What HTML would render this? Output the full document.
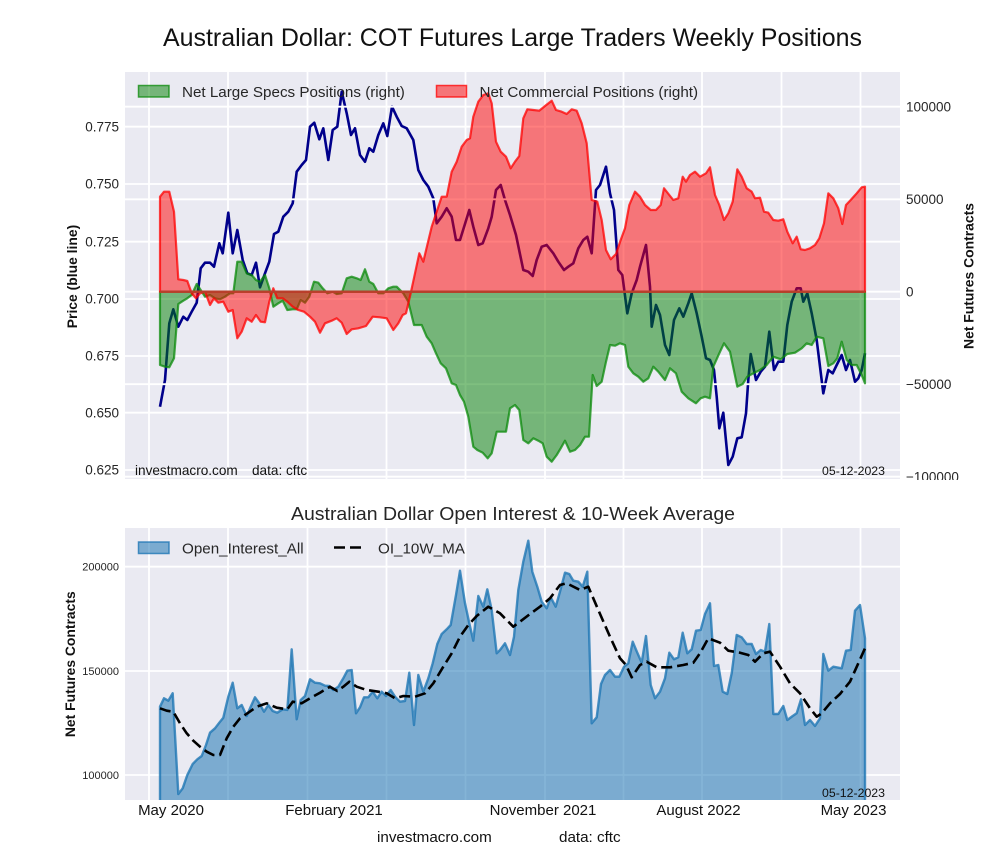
<!DOCTYPE html>
<html>
<head>
<meta charset="utf-8">
<style>
  html,body{margin:0;padding:0;background:#fff;}
  svg{display:block;}
  text{font-family:"Liberation Sans",Arial,sans-serif;}
</style>
</head>
<body>
<svg width="1000" height="860" viewBox="0 0 1000 860" xmlns="http://www.w3.org/2000/svg">
  <defs>
    <clipPath id="topClip"><rect x="125" y="72" width="775" height="407"/></clipPath>
    <clipPath id="botClip"><rect x="125" y="528" width="775" height="272"/></clipPath>
    <clipPath id="rtClip"><rect x="900" y="60" width="100" height="420"/></clipPath>
  </defs>
  <rect width="1000" height="860" fill="#fff"/>

  <!-- Title -->
  <text x="163" y="46" font-size="25" fill="#111" textLength="699" lengthAdjust="spacingAndGlyphs">Australian Dollar: COT Futures Large Traders Weekly Positions</text>

  <!-- ============ TOP CHART ============ -->
  <rect x="125" y="72" width="775" height="407" fill="#eaeaf2"/>
  <g clip-path="url(#topClip)">
    <!-- vertical grid -->
    <g stroke="#fff" stroke-width="1.8">
      <line x1="149" y1="72" x2="149" y2="479"/>
      <line x1="228" y1="72" x2="228" y2="479"/>
      <line x1="307.5" y1="72" x2="307.5" y2="479"/>
      <line x1="386.5" y1="72" x2="386.5" y2="479"/>
      <line x1="465.5" y1="72" x2="465.5" y2="479"/>
      <line x1="545" y1="72" x2="545" y2="479"/>
      <line x1="623.5" y1="72" x2="623.5" y2="479"/>
      <line x1="702" y1="72" x2="702" y2="479"/>
      <line x1="781.5" y1="72" x2="781.5" y2="479"/>
      <line x1="860.5" y1="72" x2="860.5" y2="479"/>
      <!-- left grid -->
      <line x1="125" y1="126.7" x2="900" y2="126.7"/>
      <line x1="125" y1="184" x2="900" y2="184"/>
      <line x1="125" y1="241.7" x2="900" y2="241.7"/>
      <line x1="125" y1="299" x2="900" y2="299"/>
      <line x1="125" y1="356" x2="900" y2="356"/>
      <line x1="125" y1="412.7" x2="900" y2="412.7"/>
      <line x1="125" y1="470" x2="900" y2="470"/>
    </g>
    <!-- price line -->
    <polyline fill="none" stroke="#00008b" stroke-width="2.6" stroke-linejoin="round" points="160,406.7 165,380 169.3,323.3 173.3,309.3 178.3,326.7 183.3,316.7 187.3,320 191.7,311.7 196.7,302.7 200.7,268.3 205,262.7 210,262.7 214,266.7 219.3,243.3 222.7,253.3 228.3,212.7 232.7,253.3 237.3,230 242.7,260 247.3,273.3 251.7,275 256,262.7 260,287.3 265,273.3 269.3,261.7 274,234 278.3,231.7 283.3,216.7 288.3,211.7 292.7,203.3 296.7,171.7 301.7,165 306,160 310,126.7 314.3,122.7 319.3,139.3 323.3,128.3 328.3,160 332.7,130 337.3,126.7 341.7,91.7 346.7,113.3 351,135 355,128.3 360,155 365,161.7 369.3,148.3 373.3,151.7 378.3,135 383.3,123.3 387.3,136 392,106.7 396.7,116.7 401.7,126 406.7,128.3 413.3,140 418.3,170 423.3,180 428.3,186.7 433.3,198.3 436.7,223.3 441.7,216.7 446.7,208.3 451.7,216.7 456,240 460,240 469.3,210 473.3,226.7 478.3,245 482.7,243.3 488.3,228.3 491.7,216.7 496,190 500.7,185 505,200 510,215 516,235 523.3,270 528.3,271.7 532.7,276 536.7,260 541.7,246.7 546.7,245 553.3,253.3 558.3,261.7 564,270 568.3,266.7 573.3,263.3 578.3,248.3 583.3,240 587.3,236.7 591.7,253.3 596,190 600,185 606,166.7 610,193.3 614,210 618.3,270 622.3,275 627.3,313.3 631.7,293.3 636.7,280 640,266.7 646,245 650,286.7 651.7,326.7 656,305 660,315 665,345 669.3,355 674,320 679.3,308.3 683.3,316.7 688.3,303.3 691.7,293.3 696.7,313.3 701.7,336.7 706,358.3 710,360 714,370 716.7,396.7 719.3,428.3 723.3,412.7 728.3,465 732.7,456.7 737.3,438.3 741.7,437.3 746,413.3 748.3,380 750.7,354 756,380 760.7,371.7 765,366.7 769.3,331.7 774,370 778.3,361.7 783.3,361.7 787.3,325 791.7,301.7 796.7,288.3 800.7,288.3 803.3,301.7 807.3,293.3 811.7,313.3 816.7,340 823.3,393.3 828.3,370 832.7,373.3 836.7,365 841.7,355 846,370 850,360 855,381.7 858.3,378.3 861.7,370 865,353.3"/>
    <!-- right grid -->
    <g stroke="#fff" stroke-width="1.8">
      <line x1="125" y1="106.7" x2="900" y2="106.7"/>
      <line x1="125" y1="199.3" x2="900" y2="199.3"/>
      <line x1="125" y1="291.7" x2="900" y2="291.7"/>
      <line x1="125" y1="384.2" x2="900" y2="384.2"/>
      <line x1="125" y1="476.7" x2="900" y2="476.7"/>
    </g>
    <!-- green specs fill -->
    <polygon fill="#008000" fill-opacity="0.5" stroke="#0a8a0a" stroke-opacity="0.75" stroke-width="2.2" stroke-linejoin="round" points="160,291.7 160,365 165,366.7 169.3,367.3 174,358.3 178.3,304 183.3,300.7 187.3,298.3 191.7,295 196.7,284 200.7,290 205,296.7 210,295 215,298.3 220,299.3 225,296.7 230,293.3 233.3,293.3 237.3,261.7 241.7,261.7 246.7,273.3 251.7,275 256,280 260,281.7 265,275 269.3,288.3 273.3,306.7 278.3,303.3 282.7,300.7 287.3,310 292.7,309.3 296.7,309.3 300.7,300 305,302.7 309.3,296.7 314,281.7 318.3,282.7 322.7,288.3 327.3,293.3 332.7,291.7 336.7,294 341.7,293.3 346.7,278.3 351.7,276.7 356.7,278.3 360.7,280 365,269.3 369.3,281.7 373.3,284 378.3,293.3 383.3,293.3 388.3,288.3 393.3,286.7 396.7,286.7 403.3,293.3 408.3,301.7 414,325 421.7,325 426.7,336.7 431.7,343.3 436,353.3 440.7,363.3 446,368.3 451.7,383.3 456,385 460,395 464,401.7 468.3,416.7 473.3,446.7 477.3,450 482.7,452.7 487.7,458.3 491.7,453.3 496.7,431.7 501.7,431.7 506,431.7 510,408.3 515,405 519.3,410 523.3,440 528.3,443.3 533.3,438.3 538.3,440.7 542.7,443.3 546.7,456.7 551.7,461.7 556.7,455 560.7,448.3 565,440.7 570,451.7 575,450 580,445 585,436.7 589,436.7 592.7,375 596.7,386 601.7,381.7 606,361.7 610,345 615,345.7 620,343.3 625,345 628.3,366.7 633.3,373.3 638.3,376.7 643.3,381.7 648.3,378.3 653.3,366.7 658.3,371.7 665,380 670,368.3 676,373.3 681.7,391.7 688.3,398.3 696,403.3 700.7,398.3 705,396.7 710,398.3 713.3,366.7 719.3,353.3 724,343.3 730,351.7 737.3,386.7 742.7,384 747.3,376.7 753.3,373.3 760,370 766.7,365 773.3,356.7 780.7,359.3 787.3,354 795,352.7 801.7,348.3 806.7,343.3 811.7,345 816.7,336.7 823.3,338.3 828.3,366 833.3,363.3 837.3,358.3 841.7,341.7 846.7,360 851.7,365 856.7,365 861.7,375 865,383.3 865,291.7"/>
    <!-- red commercial fill -->
    <polygon fill="#ff0000" fill-opacity="0.5" stroke="#ff0000" stroke-opacity="0.75" stroke-width="2.2" stroke-linejoin="round" points="160,291.7 160,196.7 164,191.7 169.3,191.7 174,211.7 178.3,279.3 183.3,280 187.3,281 191.7,293.3 196,298.3 200,293.3 205,291.7 210,305 214,298.3 218.3,302.7 223.3,301.7 228.3,311.7 232.7,310 237.3,338.3 241.7,331.7 246.7,318.3 251.7,321.7 256,315 260.7,321.7 265,322.3 269.3,301.7 273.3,288.3 277.3,298.3 282.7,298.3 287.3,301.7 292.7,306.7 298.3,310 304,311.7 310,316.7 315,321.7 320,332.7 325,323.3 331.7,320.7 336.7,318.3 341.7,322.7 346.7,334 351.7,329.3 358.3,328.3 366,326 372.7,316.7 380,317.3 386.7,318.3 393.3,330 398.3,323.3 402.7,315 406,313.3 410.7,293.3 415,273.3 419.3,253.3 423.3,261.7 427.3,245 431.7,226.7 436.7,211.7 441.7,196.7 446.7,196.7 451.7,171.7 456.7,161.7 461.7,146.7 466.7,140 470,138.3 473.3,116.7 478.3,101.7 483.3,95 488.3,93.3 491.7,103.3 496,141.7 500.7,151.7 506,156.7 510.7,168.3 515,161.7 519.3,156 523.3,118.3 527.3,109.3 533.3,110 539.3,110.7 545,106 551.7,100.7 556,110 561.7,111.7 566.7,114 571.7,109.3 576.7,110.7 581.7,123.3 586.7,143.3 591.7,200 597.3,201.7 601.7,220 606,250 610.7,259.3 616,254 620.7,240 625,228.3 629.3,205 635,191.7 640,196.7 645,205 650.7,210 656,210 660.7,205 664,188.3 669.3,195 673.3,200 678.3,198.3 682.7,176.7 686,181.7 690,175 695,171.7 700,176.7 706,173.3 710,167.3 715,195 719.3,205 724,220 728.3,213.3 732.7,201.7 737.3,169.3 741.7,176.7 746.7,188.3 751.7,191.7 755,198.3 760,197.7 764,211.7 768.3,212.7 773.3,220 778.3,220.7 783.3,219.3 787.3,231.7 792.7,243.3 796.7,236.7 800.7,249.3 805,250 810,248.3 815,245 819.3,238.3 824,223.3 828.3,193.3 833.3,198.3 838.3,208.3 842.3,224 846,205 850.7,200 856.7,193.3 861.7,187.3 865,186.7 865,291.7"/>
    <!-- zero line (overlapping red+green edges) -->
    <line x1="160" y1="291.7" x2="865" y2="291.7" stroke="#b8402c" stroke-width="2.4"/>
  </g>

  <!-- top legend -->
  <rect x="138.5" y="85.5" width="30.5" height="11.5" fill="#008000" fill-opacity="0.5" stroke="#0a8a0a" stroke-opacity="0.75" stroke-width="1.5"/>
  <text x="182" y="97" font-size="15.2" fill="#262626">Net Large Specs Positions (right)</text>
  <rect x="436.5" y="85.5" width="30" height="11.5" fill="#ff0000" fill-opacity="0.5" stroke="#ff0000" stroke-opacity="0.75" stroke-width="1.5"/>
  <text x="479.5" y="97" font-size="15.2" fill="#262626">Net Commercial Positions (right)</text>

  <!-- top annotations -->
  <text x="135" y="475" font-size="13.6" fill="#111">investmacro.com</text>
  <text x="252" y="475" font-size="13.6" fill="#111">data: cftc</text>
  <text x="822" y="475" font-size="12.3" fill="#111" textLength="63" lengthAdjust="spacingAndGlyphs">05-12-2023</text>

  <!-- left ticks top -->
  <g font-size="13.5" fill="#262626" text-anchor="end">
    <text x="119" y="131.4">0.775</text>
    <text x="119" y="188.7">0.750</text>
    <text x="119" y="246.4">0.725</text>
    <text x="119" y="303.7">0.700</text>
    <text x="119" y="360.7">0.675</text>
    <text x="119" y="417.4">0.650</text>
    <text x="119" y="474.7">0.625</text>
  </g>
  <!-- right ticks top -->
  <g font-size="13.5" fill="#262626" clip-path="url(#rtClip)">
    <text x="906" y="111.4">100000</text>
    <text x="906" y="204">50000</text>
    <text x="906" y="296.4">0</text>
    <text x="906" y="388.9">−50000</text>
    <text x="906" y="481.4">−100000</text>
  </g>
  <!-- axis labels top -->
  <text transform="translate(77,276.5) rotate(-90)" text-anchor="middle" font-size="13.9" font-weight="bold" fill="#111">Price (blue line)</text>
  <text transform="translate(973.5,276) rotate(-90)" text-anchor="middle" font-size="13.9" font-weight="bold" fill="#111">Net Futures Contracts</text>

  <!-- ============ BOTTOM CHART ============ -->
  <text x="291" y="520" font-size="18.6" fill="#262626" textLength="444" lengthAdjust="spacingAndGlyphs">Australian Dollar Open Interest &amp; 10-Week Average</text>
  <rect x="125" y="528" width="775" height="272" fill="#eaeaf2"/>
  <g clip-path="url(#botClip)">
    <g stroke="#fff" stroke-width="1.8">
      <line x1="149" y1="528" x2="149" y2="800"/>
      <line x1="228" y1="528" x2="228" y2="800"/>
      <line x1="307.5" y1="528" x2="307.5" y2="800"/>
      <line x1="386.5" y1="528" x2="386.5" y2="800"/>
      <line x1="465.5" y1="528" x2="465.5" y2="800"/>
      <line x1="545" y1="528" x2="545" y2="800"/>
      <line x1="623.5" y1="528" x2="623.5" y2="800"/>
      <line x1="702" y1="528" x2="702" y2="800"/>
      <line x1="781.5" y1="528" x2="781.5" y2="800"/>
      <line x1="860.5" y1="528" x2="860.5" y2="800"/>
      <line x1="125" y1="566.7" x2="900" y2="566.7"/>
      <line x1="125" y1="671" x2="900" y2="671"/>
      <line x1="125" y1="775" x2="900" y2="775"/>
    </g>
    <polygon fill="#1f77b4" fill-opacity="0.55" stroke="#1f77b4" stroke-opacity="0.8" stroke-width="2.4" stroke-linejoin="round" points="160,810 160,706.7 164,698.3 168.3,700.7 172.7,693.3 178.3,794 182.7,788.3 187.3,775 192.7,764 197.3,759.3 201.7,756 206,745 210,732.7 215,728.3 219.3,722.7 223.3,717.7 228.3,696.7 232.7,682.7 237.3,708.3 241.7,705 246.7,716 250.7,706.7 255,697.3 259.3,703.3 264,711.7 268.3,705 272.7,711 277.3,712.7 282.7,709.3 287.3,710 291.7,649.3 296.7,719.3 300.7,700 305,696 310,679.3 315,682.7 320,683.3 325,685.7 329.3,686 333.3,690 338.3,686.7 343.3,678.3 347.3,670.7 351.7,670 356,713.3 360,707.3 364,697.3 368.3,697.3 372.7,691.7 377.3,698.3 381.7,691.7 386,696 390.7,690 395,696.7 400,701.7 405,701 409.3,672.7 414,725 418.3,675 423.3,691.7 428.3,678.3 432.7,663.3 437.3,644 441.7,634 446.7,629.3 450.7,625 456,595 460,570.7 465,603.3 469.3,623.3 473.3,640.7 478.3,596 483.3,606.7 487.3,589.3 491.7,610 496.7,653.3 500,650 505,643.3 510,655 514,636.7 518.3,590 523.3,561.7 528.3,540.7 532.3,571.7 537.3,586.7 541.7,601.7 546.7,608.3 550.7,597.3 555.7,606.7 560,591.7 565,572.7 569.3,574 573.3,580.7 578.3,581.7 582.7,586.7 587.3,571.7 591.7,723.3 596.7,717.3 601,684 605,675 610,670 615,676.7 619.3,676.7 624,666.7 628.3,663.3 632.7,641.7 637.3,652.7 641.7,662.7 646,636 650.7,685 655,698.3 660,691.7 665,678.3 669.3,652.7 674,659.3 678.3,657.3 682.7,632.7 687.3,653.3 691.7,649.3 696,630.7 700.7,630 705,614 710,603.3 714,666 718.3,665 722.7,691.7 727.3,694 731.7,673.3 736.7,635 741.7,637.3 746.7,644 751.7,644 756,654 760.7,650 765,651.7 769.3,624 773.3,714 778.3,714 783.3,706 787.3,720 792.7,716 796.7,713.3 801,699.3 805,725 810,720 815,726 820,718.3 823.3,654 828.3,670.7 833.3,666.7 841.7,668.3 846,650.7 850.7,650 855,610.7 860,605 865,638.3 865,810"/>
    <polyline fill="none" stroke="#000" stroke-width="2.6" stroke-dasharray="11,5" stroke-linejoin="round" points="160,708.3 166.7,710.7 173.3,711.7 180,723.3 186.7,733.3 193.3,740.7 200,746.7 206.7,751.7 213.3,755 220,755 226.7,738.3 233.3,726.7 240,718.3 248.3,712.7 256.7,706.7 266.7,703.3 276.7,707.7 287.3,709.3 292.7,701.7 301.7,703.3 310,698.3 320,692.7 330,686.7 337.3,691 343.3,686.7 349.3,681.7 356.7,686.7 366.7,690 378.3,691.7 386.7,693.3 395,698.3 403.3,696 415,696.7 425,693.3 433.3,683.3 443.3,666.7 451.7,653.3 460,636.7 468.3,625 476.7,616 488.3,606.7 500,613.3 513.3,626.7 520,621.7 530,614 540,606.7 550,598.3 560,585 566.7,583.3 580,590 588.3,586.7 598.3,610 610,636.7 620,658.3 626,665 631.7,677.3 640,665 646.7,661.7 656.7,667.3 670,667.3 683.3,665 693.3,662.7 700,653.3 708.3,638.3 720,642.7 728.3,650.7 740,652.7 748.3,655 755,661.7 763.3,653.3 770,651.7 780,666.7 790,683.3 800,693.3 810,708.3 816.7,716.7 821.7,713.3 830,703.3 840,694 850,681.7 858.3,663.3 865,648.3"/>
  </g>

  <!-- bottom legend -->
  <rect x="138.5" y="542" width="30.5" height="11.5" fill="#1f77b4" fill-opacity="0.55" stroke="#1f77b4" stroke-opacity="0.8" stroke-width="1.5"/>
  <text x="182" y="553.5" font-size="15.2" fill="#262626">Open_Interest_All</text>
  <line x1="334" y1="547.5" x2="362" y2="547.5" stroke="#000" stroke-width="2.6" stroke-dasharray="11,5"/>
  <text x="378" y="553.5" font-size="15.2" fill="#262626">OI_10W_MA</text>

  <text x="822" y="797" font-size="12.3" fill="#111" textLength="63" lengthAdjust="spacingAndGlyphs">05-12-2023</text>

  <!-- bottom y ticks -->
  <g font-size="11" fill="#262626" text-anchor="end">
    <text x="119" y="570.6">200000</text>
    <text x="119" y="674.9">150000</text>
    <text x="119" y="778.9">100000</text>
  </g>
  <text transform="translate(75,664.2) rotate(-90)" text-anchor="middle" font-size="13.9" font-weight="bold" fill="#111">Net Futures Contracts</text>

  <!-- bottom x ticks -->
  <g font-size="15" fill="#111" text-anchor="middle">
    <text x="171" y="815">May 2020</text>
    <text x="334" y="815">February 2021</text>
    <text x="543" y="815">November 2021</text>
    <text x="698.5" y="815">August 2022</text>
    <text x="853.5" y="815">May 2023</text>
  </g>

  <text x="377" y="842" font-size="15.2" fill="#111">investmacro.com</text>
  <text x="559" y="842" font-size="15.2" fill="#111">data: cftc</text>
</svg>
</body>
</html>
